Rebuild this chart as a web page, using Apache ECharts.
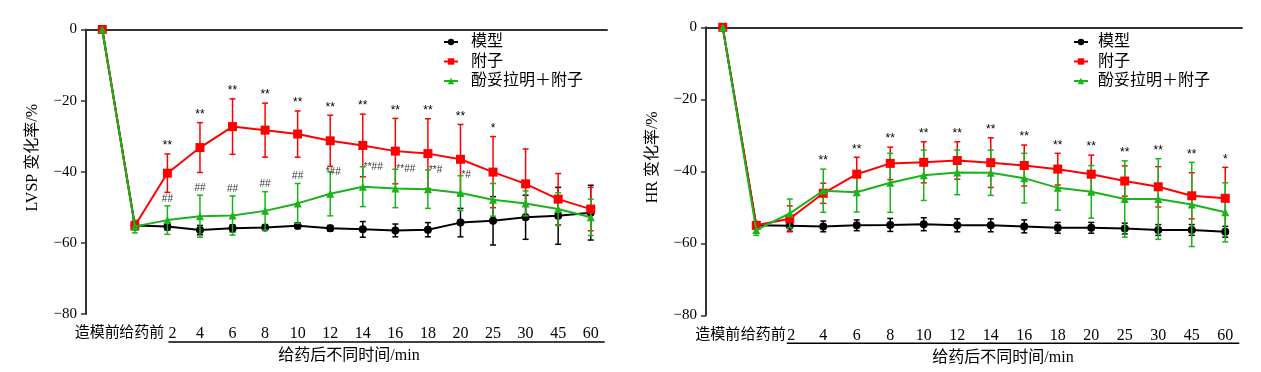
<!DOCTYPE html>
<html><head><meta charset="utf-8">
<script src="https://cdn.jsdelivr.net/npm/echarts@6/dist/echarts.min.js"></script>
<style>html,body{margin:0;padding:0;background:#fff;}#c{width:1261px;height:372px;}</style>
</head><body><div id="c"></div>
<script>
const categories = ['造模前','给药前','2','4','6','8','10','12','14','16','18','20','25','30','45','60'];
const seriesNames = ['模型','附子','酚妥拉明＋附子'];
const yTicks = [0,-20,-40,-60,-80];

// LVSP change rate (%)
const lvspModel   = [0,-55.1,-55.4,-56.4,-55.9,-55.7,-55.2,-55.9,-56.2,-56.5,-56.3,-54.3,-53.8,-52.8,-52.4,-51.5];
const lvspModelSd = [0,1.2,1.0,1.3,1.0,0.8,0.8,0.8,2.2,1.8,2.0,4.0,6.8,6.2,8.0,7.7];
const lvspFuzi    = [0,-55.2,-40.4,-33.2,-27.3,-28.3,-29.4,-31.3,-32.6,-34.2,-34.9,-36.5,-40.1,-43.4,-47.7,-50.5];
const lvspFuziSd  = [0,1.0,5.4,7.0,7.8,7.6,6.5,7.2,8.8,9.2,9.8,9.8,10.0,9.8,7.2,6.1];
const lvspPhen    = [0,-55.4,-53.6,-52.5,-52.3,-51.0,-48.9,-46.2,-44.2,-44.7,-44.9,-46.0,-47.9,-48.9,-50.5,-52.8];
const lvspPhenSd  = [0,1.8,4.0,5.9,5.5,5.4,5.6,6.2,5.6,5.4,5.4,4.9,4.6,3.5,4.6,5.1];
const lvspStars   = ['','','**','**','**','**','**','**','**','**','**','**','*','','',''];
const lvspHash    = ['','','##','##','##','##','##','*##','**##','**##','**#','*#','','','',''];

// HR change rate (%)
const hrModel   = [0,-55.0,-55.1,-55.3,-55.0,-54.9,-54.7,-55.0,-55.0,-55.3,-55.7,-55.7,-55.9,-56.3,-56.3,-56.8];
const hrModelSd = [0,1.0,1.5,1.5,1.5,1.8,1.8,1.8,1.8,1.8,1.5,1.5,1.5,1.5,1.5,1.5];
const hrFuzi    = [0,-55.0,-53.2,-46.1,-40.8,-37.8,-37.5,-37.0,-37.6,-38.4,-39.4,-40.8,-42.7,-44.3,-46.8,-47.5];
const hrFuziSd  = [0,1.0,3.6,2.8,4.7,4.5,5.7,5.2,6.9,5.7,4.4,5.3,4.2,5.6,6.4,8.6];
const hrPhen    = [0,-56.3,-51.7,-45.4,-45.8,-43.2,-41.1,-40.3,-40.4,-41.9,-44.6,-45.7,-47.7,-47.7,-49.2,-51.4];
const hrPhenSd  = [0,1.5,4.0,6.0,5.5,8.2,7.0,6.2,6.3,6.9,6.2,7.3,10.6,11.2,11.7,8.2];
const hrStars   = ['','','','**','**','**','**','**','**','**','**','**','**','**','**','*'];

const FONT = "'Liberation Serif', 'Noto Sans CJK SC', serif";
const COLORS = ['#000000','#ff0000','#19b419'];
const SYMBOLS = ['circle','rect','triangle'];
const SYMSIZE = [8,9,8];

const chart = echarts.init(document.getElementById('c'), null, {renderer:'canvas'});

function lineSeries(k, ai, data){
  return {name:seriesNames[k], type:'line', xAxisIndex:ai, yAxisIndex:ai, data:data,
    symbol:SYMBOLS[k], symbolSize:SYMSIZE[k], z:3+k,
    lineStyle:{color:COLORS[k], width:2}, itemStyle:{color:COLORS[k]}};
}
function errSeries(k, ai, means, sds){
  return {type:'custom', xAxisIndex:ai, yAxisIndex:ai, silent:true, z:2+k,
    encode:{x:0, y:[1,2]},
    data: means.map((m,i)=>[i, m - sds[i], m + sds[i]]),
    renderItem:(params, api)=>{
      const lo = api.coord([api.value(0), api.value(1)]);
      const hi = api.coord([api.value(0), api.value(2)]);
      const w = 3, st = {stroke:COLORS[k], lineWidth:1.5};
      if (Math.abs(hi[1]-lo[1]) < 0.5) return {type:'group', children:[]};
      return {type:'group', children:[
        {type:'line', shape:{x1:lo[0],y1:lo[1],x2:hi[0],y2:hi[1]}, style:st},
        {type:'line', shape:{x1:lo[0]-w,y1:lo[1],x2:lo[0]+w,y2:lo[1]}, style:st},
        {type:'line', shape:{x1:hi[0]-w,y1:hi[1],x2:hi[0]+w,y2:hi[1]}, style:st}
      ]};
    }};
}
function annSeries(ai, texts, anchors, modeFn, fontSize, color){
  const data = [];
  texts.forEach((t,i)=>{ if (t) data.push([i, anchors[i]]); });
  const tx = data.map(d=>texts[d[0]]);
  return {type:'custom', xAxisIndex:ai, yAxisIndex:ai, silent:true, z:10,
    encode:{x:0,y:1}, data:data,
    renderItem:(params, api)=>{
      const idx = api.value(0);
      const p = api.coord([idx, api.value(1)]);
      const mode = modeFn(idx);
      let x=p[0], y=p[1], align='center', va='bottom';
      if (mode==='right'){ x += 1; align='left'; va='middle'; }
      else if (mode==='center'){ x += 3; va='middle'; }
      else { y -= 2; }
      return {type:'text', x:x, y:y, style:{text:tx[params.dataIndex], align:align, verticalAlign:va,
        font: fontSize + "px 'Liberation Sans', sans-serif", fill:color}};
    }};
}
const topOf = (m,s)=>m.map((v,i)=>v+s[i]);
const maxArr = (a,b)=>a.map((v,i)=>Math.max(v,b[i]));

function xAxis(gi, shiftName, shiftTwo){
  return {type:'category', gridIndex:gi, data:categories, boundaryGap:true,
    axisLine:{lineStyle:{color:'#333', width:2}},
    axisTick:{alignWithLabel:true, length:4, lineStyle:{color:'#333', width:1.5}},
    axisLabel:{interval:0, fontSize:16, fontFamily:FONT, color:'#000', margin:12,
      formatter:(v,i)=> i===0 ? '{a|'+v+'}' : (i===1 ? '{b|'+v+'}' : (i===2 ? '{c|'+v+'}' : v)),
      rich:{a:{fontSize:15, fontFamily:FONT, color:'#000', padding:[0,10,0,0]},
            b:{fontSize:15, fontFamily:FONT, color:'#000', padding:[0,0,0,14]},
            c:{fontSize:16, fontFamily:FONT, color:'#000', padding:[0,0,0,shiftTwo]}}},
    name:'给药后不同时间/min', nameLocation:'middle', nameGap:34,
    nameTextStyle:{fontSize:16, fontFamily:FONT, color:'#000', padding:[0,0,0,shiftName]}};
}
function yAxis(gi, name){
  return {type:'value', gridIndex:gi, min:-80, max:0, interval:20,
    splitLine:{show:false},
    axisLine:{show:true, lineStyle:{color:'#333', width:2}},
    axisTick:{show:true, length:5, lineStyle:{color:'#333', width:1.5}},
    axisLabel:{fontSize:15, fontFamily:FONT, color:'#000', margin:9,
      formatter:v=> v<0 ? '\u2212'+Math.abs(v) : String(v)},
    name:name, nameLocation:'middle', nameGap:45, nameRotate:90,
    nameTextStyle:{fontSize:16, fontFamily:FONT, color:'#000', padding:[0,0,0,28]}};
}
function legend(left, pad){
  return {left:left, top:29, orient:'vertical', data:seriesNames, itemWidth:14, itemHeight:8, itemGap:3.5,
    textStyle:{fontSize:16, fontFamily:FONT, color:'#000', lineHeight:16, padding:[0,0,0,pad]}};
}

const option = {
  animation:false,
  backgroundColor:'#fff',
  grid:[{left:86, top:29.5, width:521, height:284.5},
        {left:706, top:27.3, width:536, height:288}],
  xAxis:[xAxis(0,5,10), xAxis(1,58,3)],
  yAxis:[yAxis(0,'LVSP 变化率/%'), yAxis(1,'HR 变化率/%')],
  legend:[legend(438,8), legend(1068,5)],
  series:[
    errSeries(0,0,lvspModel,lvspModelSd), errSeries(1,0,lvspFuzi,lvspFuziSd), errSeries(2,0,lvspPhen,lvspPhenSd),
    lineSeries(0,0,lvspModel), lineSeries(1,0,lvspFuzi), lineSeries(2,0,lvspPhen),
    annSeries(0, lvspStars, topOf(lvspFuzi,lvspFuziSd), ()=>'top', 12, '#000'),
    annSeries(0, lvspHash, topOf(lvspPhen,lvspPhenSd), (i)=> i>=8 ? 'right' : (i===7 ? 'center' : 'top'), 10, '#333'),
    errSeries(0,1,hrModel,hrModelSd), errSeries(1,1,hrFuzi,hrFuziSd), errSeries(2,1,hrPhen,hrPhenSd),
    lineSeries(0,1,hrModel), lineSeries(1,1,hrFuzi), lineSeries(2,1,hrPhen),
    annSeries(1, hrStars, maxArr(topOf(hrFuzi,hrFuziSd), topOf(hrPhen,hrPhenSd)), ()=>'top', 12, '#000')
  ]
};
chart.setOption(option);

// underline beneath the post-dose time labels, derived from axis scales
const lines = [];
[[0,1],[1,-3]].forEach(([ai,dx])=>{
  const x1 = chart.convertToPixel({xAxisIndex:ai}, '2');
  const x2 = chart.convertToPixel({xAxisIndex:ai}, '60');
  const yb = chart.convertToPixel({yAxisIndex:ai}, -80);
  lines.push({type:'line', shape:{x1:x1+dx, y1:yb+28, x2:x2+14, y2:yb+28}, style:{stroke:'#000', lineWidth:1.5}, silent:true});
});
chart.setOption({graphic:lines});
</script></body></html>
